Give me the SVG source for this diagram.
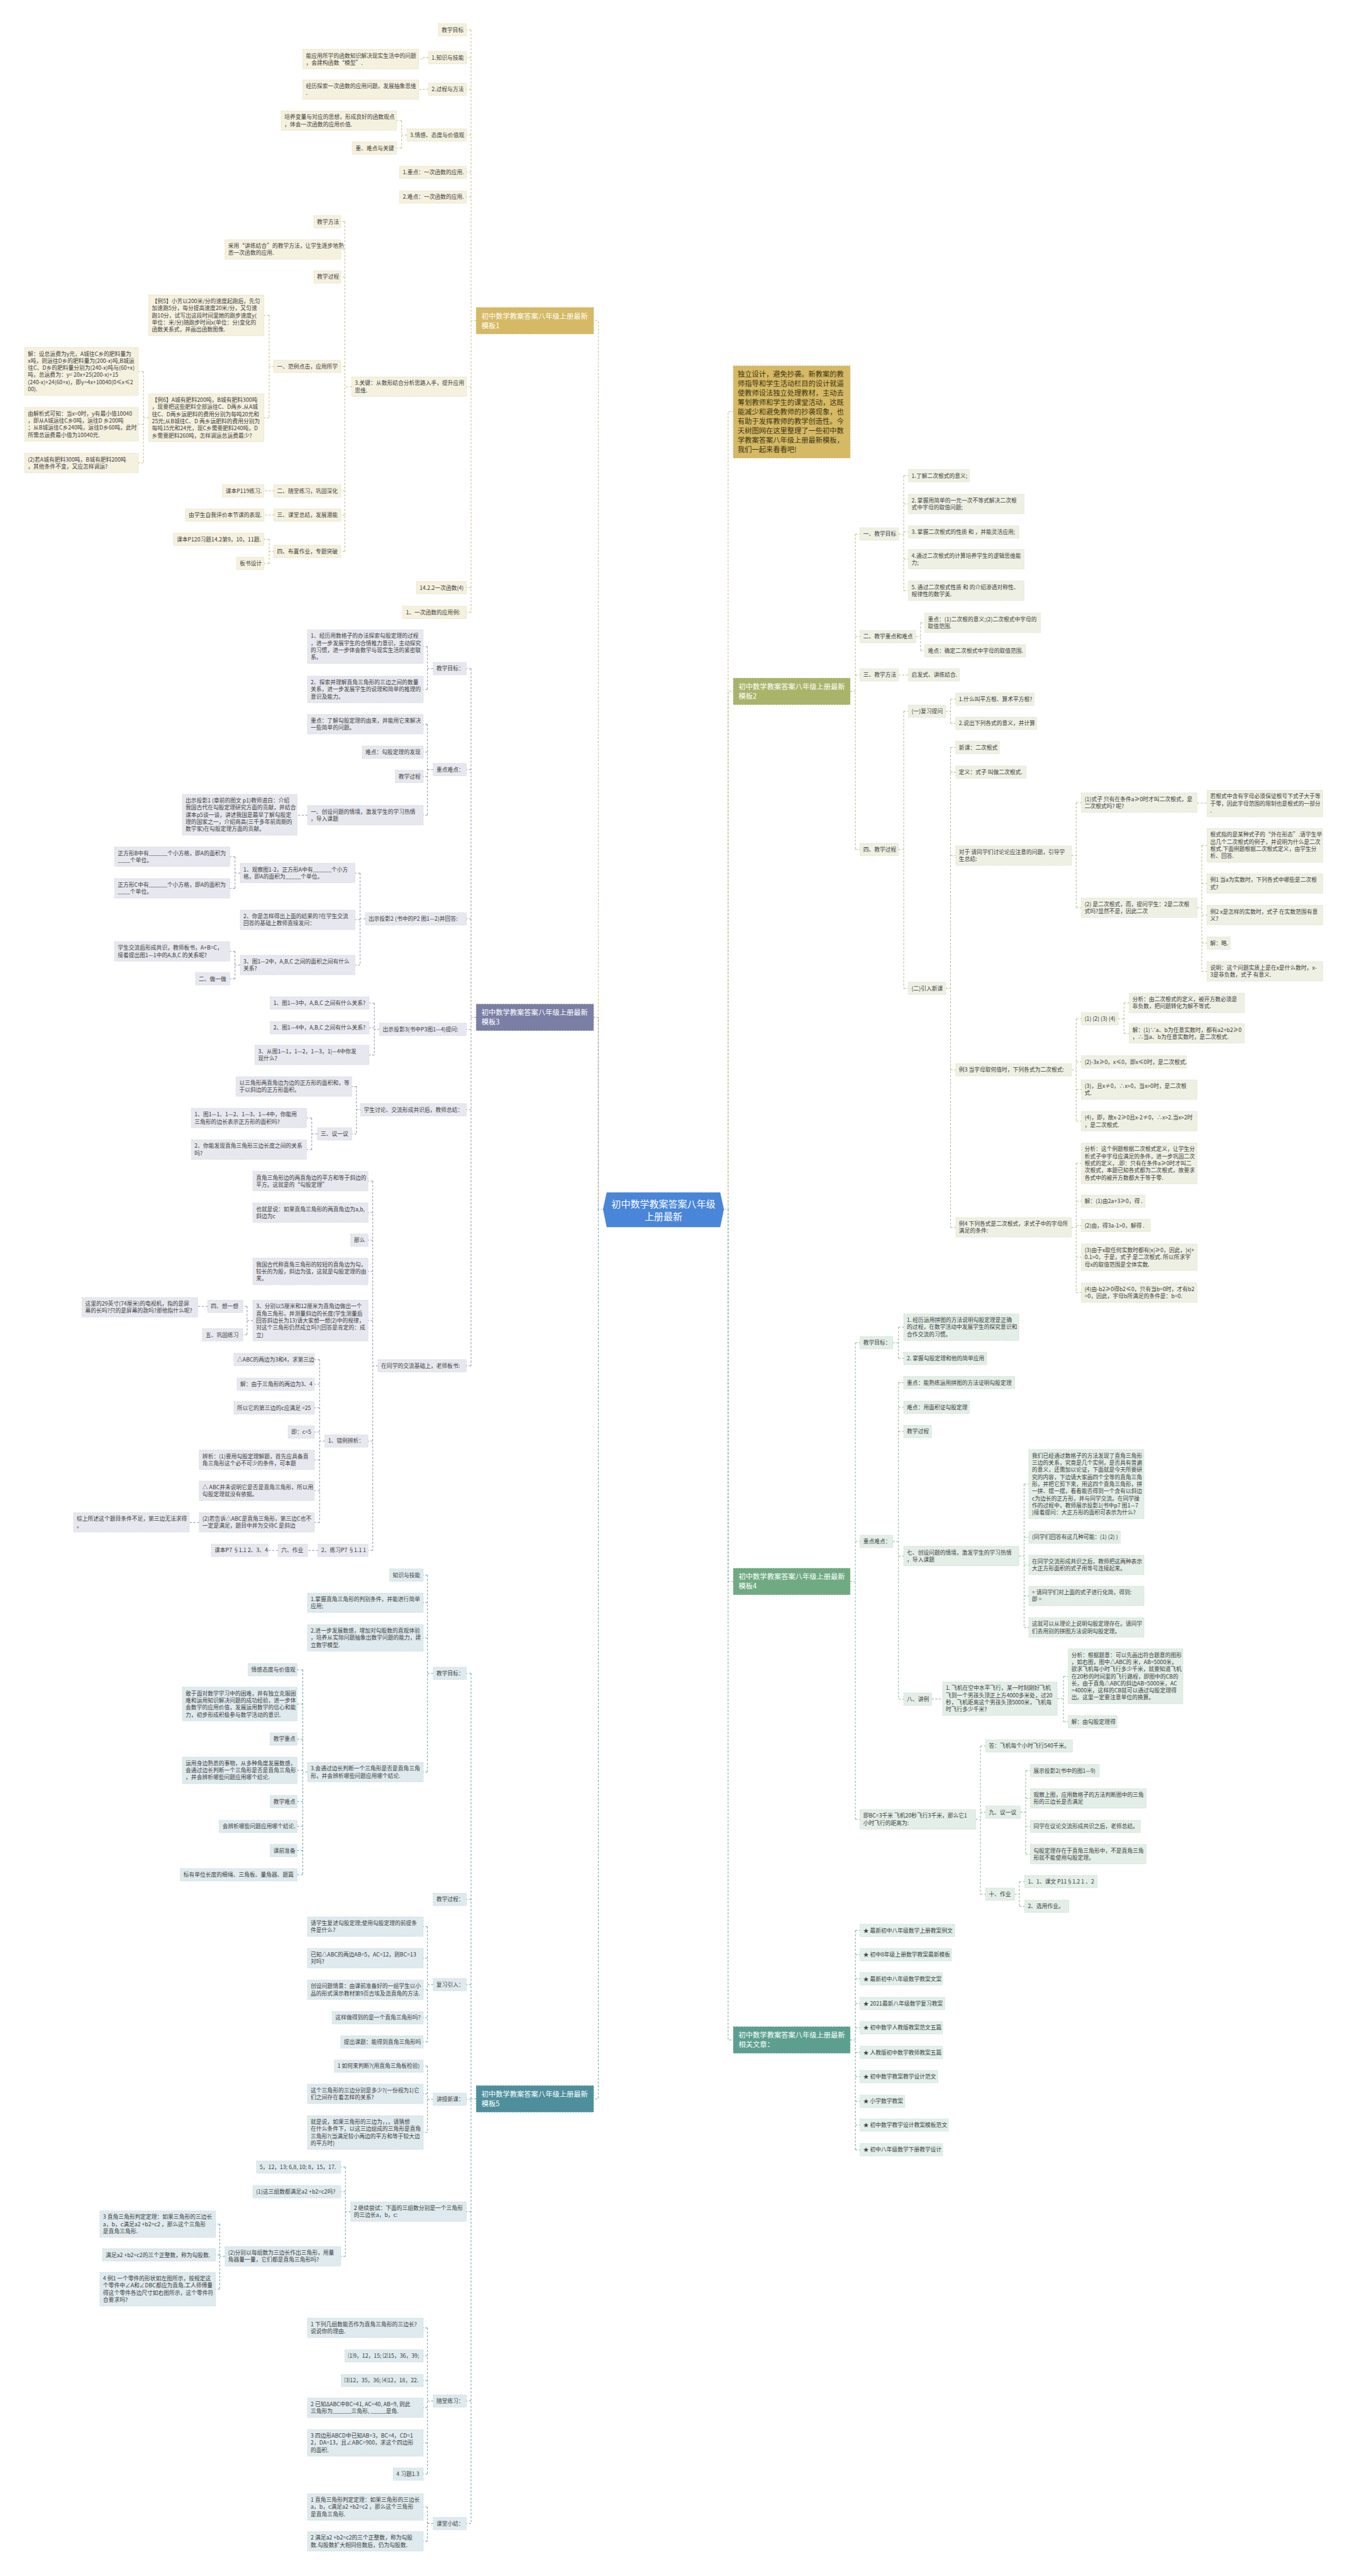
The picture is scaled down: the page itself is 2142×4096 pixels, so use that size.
<svg xmlns="http://www.w3.org/2000/svg" width="2142" height="4096" viewBox="0 0 2142 4096">
<style>
text{font-family:"Noto Sans CJK SC","Noto Sans",sans-serif}
.t{font-size:10.5px;fill:#404040}
.mt{font-size:13.5px;fill:#ffffff}
.it{font-size:13.5px;fill:#3d3414}
.ct{font-size:18px;fill:#ffffff;text-anchor:middle}
rect{stroke-width:1;stroke-dasharray:3 2}
.b1{fill:#f5f1df;stroke:#e3d9b2}
.b2{fill:#eff0e4;stroke:#d8ddc0}
.b3{fill:#e7e8ef;stroke:#cfd1de}
.b4{fill:#e3eee7;stroke:#c6dbcd}
.b5{fill:#dfeaee;stroke:#c3d6dc}
.b6{fill:#e2efea;stroke:#c4dcd3}
.m1{fill:#d5b964;stroke:#c2a44e}
.m2{fill:#a9b46a;stroke:#96a158}
.m3{fill:#7b7fa5;stroke:#686c92}
.m4{fill:#6faa83;stroke:#5c9770}
.m5{fill:#4f8f9d;stroke:#3f7d8b}
.m6{fill:#5c9f8f;stroke:#4b8c7d}
path{fill:none;stroke-width:1.2;stroke-dasharray:4 3}
.c1{stroke:#c9b97a}
.c2{stroke:#b3ba86}
.c3{stroke:#8d91ad}
.c4{stroke:#86b596}
.c5{stroke:#6c9ea9}
.c6{stroke:#6da797}
</style>
<rect x="0" y="0" width="2142" height="4096" fill="#ffffff" style="stroke:none"/>
<g transform="scale(0.836)">

<g id="connectors">
<!-- center -->
<path class="c1" d="M1147,2300 H1138 V610 H1129"/>
<path class="c3" d="M1138,2300 V1935 H1129"/>
<path class="c5" d="M1138,2300 V3992 H1129"/>
<path class="c1" d="M1377,2300 H1385 V783 H1395"/>
<path class="c2" d="M1385,2300 V1315 H1395"/>
<path class="c4" d="M1385,2300 V3008 H1395"/>
<path class="c6" d="M1385,2300 V3880 H1395"/>
<!-- B1 -->
<path class="c1" d="M906,610 H896 M896,56.75 V1164.75 M896,56.75 H887 M896,109.75 H887 M896,169.75 H887 M896,256.75 H887 M896,327.75 H887 M896,374.75 H887 M896,735.5 H887 M896,1117.75 H887 M896,1164.75 H887"/>
<path class="c1" d="M815,109.75 H805 V112.5 H796 M815,169.75 H805 V170.5 H796"/>
<path class="c1" d="M774,256.75 H764 M764,229.5 V281.75 M764,229.5 H754 M764,281.75 H754"/>
<path class="c1" d="M669,735.5 H656 M656,421.75 V1048.75 M656,421.75 H648 M656,474.5 H648 M656,526.75 H648 M656,696.75 H648 M656,933.75 H648 M656,979.75 H648 M656,1048.75 H648"/>
<path class="c1" d="M522,696.75 H512 M512,599.75 V794.5 M512,599.75 H502 M512,794.5 H502"/>
<path class="c1" d="M283,794.5 H273 M273,706.5 V880.5 M273,706.5 H263 M273,807 H263 M273,880.5 H263"/>
<path class="c1" d="M522,933.75 H502 M522,979.75 H502"/>
<path class="c1" d="M522,1048.75 H512 M512,1025.75 V1071.75 M512,1025.75 H502 M512,1071.75 H502"/>
<!-- B3 -->
<path class="c3" d="M906,1935 H896 M896,1271.75 V2597.75 M896,1271.75 H887 M896,1463.75 H887 M896,1747.75 H887 M896,1957.75 H887 M896,2110.75 H887 M896,2597.75 H887"/>
<path class="c3" d="M824,1271.75 H813 M813,1230 V1311.25 M813,1230 H805 M813,1311.25 H805"/>
<path class="c3" d="M824,1463.75 H813 M813,1377.5 V1550.5 M813,1377.5 H805 M813,1430.75 H805 M813,1476.75 H805 M813,1550.5 H805"/>
<path class="c3" d="M585,1550.5 H565"/>
<path class="c3" d="M695,1747.75 H685 M685,1660.5 V1835.5 M685,1660.5 H675 M685,1749.5 H675 M685,1835.5 H675"/>
<path class="c3" d="M457,1660.5 H447 M447,1629.5 V1689.5 M447,1629.5 H437 M447,1689.5 H437"/>
<path class="c3" d="M457,1835.5 H447 M447,1809.5 V1861.75 M447,1809.5 H437 M447,1861.75 H437"/>
<path class="c3" d="M722,1957.75 H712 M712,1907.75 V2006.5 M712,1907.75 H702 M712,1954.75 H702 M712,2006.5 H702"/>
<path class="c3" d="M688,2110.75 H678 M678,2066.5 V2156.75 M678,2066.5 H669 M678,2156.75 H669"/>
<path class="c3" d="M604,2156.75 H593 M593,2126.5 V2186.5 M593,2126.5 H583 M593,2186.5 H583"/>
<path class="c3" d="M719,2597.75 H709 M709,2246.5 V2948.75 M709,2246.5 H700 M709,2306.5 H700 M709,2358.75 H700 M709,2418.25 H700 M709,2511.75 H700 M709,2740.75 H700 M709,2948.75 H700"/>
<path class="c3" d="M481,2511.75 H470 M470,2484.75 V2538.75 M470,2484.75 H462 M470,2538.75 H462"/>
<path class="c3" d="M395,2484.75 H376"/>
<path class="c3" d="M618,2740.75 H608 M608,2585.75 V2895.5 M608,2585.75 H598 M608,2632.75 H598 M608,2677.75 H598 M608,2723.75 H598 M608,2776.5 H598 M608,2835.5 H598 M608,2895.5 H598"/>
<path class="c3" d="M379,2895.5 H360 M605,2948.75 H585 M529,2948.75 H510"/>
<!-- B5 -->
<path class="c5" d="M906,3992 H896 M896,3182.75 V4799.75 M896,3182.75 H887 M896,3612.75 H887 M896,3774.75 H887 M896,3992.75 H887 M896,4206.5 H887 M896,4566.75 H887 M896,4799.75 H887"/>
<path class="c5" d="M824,3182.75 H813 M813,2995.75 V3370.5 M813,2995.75 H805 M813,3048.5 H805 M813,3115.25 H805 M813,3370.5 H805"/>
<path class="c5" d="M585,3370.5 H576 M576,3175.75 V3565.75 M576,3175.75 H565 M576,3241 H565 M576,3307.75 H565 M576,3367.25 H565 M576,3426.75 H565 M576,3473.75 H565 M576,3519.75 H565 M576,3565.75 H565"/>
<path class="c5" d="M824,3774.75 H813 M813,3664.5 V3883.75 M813,3664.5 H805 M813,3724.5 H805 M813,3784.5 H805 M813,3837.75 H805 M813,3883.75 H805"/>
<path class="c5" d="M824,3992.75 H813 M813,3929.75 V4056 M813,3929.75 H805 M813,3982.5 H805 M813,4056 H805"/>
<path class="c5" d="M667,4206.5 H657 M657,4121.75 V4291.5 M657,4121.75 H648 M657,4168.75 H648 M657,4291.5 H648"/>
<path class="c5" d="M428,4291.5 H418 M418,4230.25 V4354 M418,4230.25 H410 M418,4288.75 H410 M418,4354 H410"/>
<path class="c5" d="M824,4566.75 H813 M813,4427.5 V4705.75 M813,4427.5 H805 M813,4480.75 H805 M813,4527.75 H805 M813,4579.5 H805 M813,4646.25 H805 M813,4705.75 H805"/>
<path class="c5" d="M824,4799.75 H813 M813,4768.25 V4833.5 M813,4768.25 H805 M813,4833.5 H805"/>
<!-- B2 -->
<path class="c2" d="M1617,1315 H1627 M1627,1015.75 V1615.75 M1627,1015.75 H1636 M1627,1210.75 H1636 M1627,1283.75 H1636 M1627,1615.75 H1636"/>
<path class="c2" d="M1709,1015.75 H1719 M1719,904.75 V1123.5 M1719,904.75 H1728 M1719,958.5 H1728 M1719,1011.75 H1728 M1719,1063.5 H1728 M1719,1123.5 H1728"/>
<path class="c2" d="M1742,1210.75 H1751 M1751,1184.5 V1237.75 M1751,1184.5 H1759 M1751,1237.75 H1759"/>
<path class="c2" d="M1709,1283.75 H1728"/>
<path class="c2" d="M1709,1615.75 H1719 M1719,1352.75 V1879.75 M1719,1352.75 H1728 M1719,1879.75 H1728"/>
<path class="c2" d="M1799,1352.75 H1808 M1808,1329.75 V1375.75 M1808,1329.75 H1818 M1808,1375.75 H1818"/>
<path class="c2" d="M1799,1879.75 H1808 M1808,1421.75 V2334.5 M1808,1421.75 H1818 M1808,1468.75 H1818 M1808,1627.5 H1818 M1808,2034.75 H1818 M1808,2334.5 H1818"/>
<path class="c2" d="M2038,1627.5 H2047 M2047,1526.5 V1726.5 M2047,1526.5 H2057 M2047,1726.5 H2057"/>
<path class="c2" d="M2277,1527.5 H2296"/>
<path class="c2" d="M2277,1726.5 H2286 M2286,1608 V1847.5 M2286,1608 H2296 M2286,1680.5 H2296 M2286,1740.5 H2296 M2286,1793.75 H2296 M2286,1847.5 H2296"/>
<path class="c2" d="M2038,2034.75 H2047 M2047,1937.75 V2132.5 M2047,1937.75 H2057 M2047,2019.75 H2057 M2047,2072.5 H2057 M2047,2132.5 H2057"/>
<path class="c2" d="M2127,1937.75 H2138 M2138,1907.5 V1965.5 M2138,1907.5 H2148 M2138,1965.5 H2148"/>
<path class="c2" d="M2038,2334.5 H2047 M2047,2212.75 V2458.5 M2047,2212.75 H2057 M2047,2284.75 H2057 M2047,2330.75 H2057 M2047,2391.25 H2057 M2047,2458.5 H2057"/>
<!-- B4 -->
<path class="c4" d="M1617,3008 H1627 M1627,2553.75 V3460.5 M1627,2553.75 H1636 M1627,2931.75 H1636 M1627,3460.5 H1636"/>
<path class="c4" d="M1698,2553.75 H1709 M1709,2524.25 V2583.75 M1709,2524.25 H1719 M1709,2583.75 H1719"/>
<path class="c4" d="M1698,2931.75 H1709 M1709,2629.75 V3231.75 M1709,2629.75 H1719 M1709,2676.75 H1719 M1709,2722.75 H1719 M1709,2959.5 H1719 M1709,3231.75 H1719"/>
<path class="c4" d="M1938,2959.5 H1948 M1948,2822.75 V3095.5 M1948,2822.75 H1957 M1948,2923.75 H1957 M1948,2976.5 H1957 M1948,3035.5 H1957 M1948,3095.5 H1957"/>
<path class="c4" d="M1772,3231.5 H1793"/>
<path class="c4" d="M2011,3231 H2023 M2023,3188.25 V3274.75 M2023,3188.25 H2032 M2023,3274.75 H2032"/>
<path class="c4" d="M1856,3460.5 H1865 M1865,3320.75 V3602.75 M1865,3320.75 H1875 M1865,3446.75 H1875 M1865,3602.75 H1875"/>
<path class="c4" d="M1941,3446.75 H1951 M1951,3367.75 V3526.5 M1951,3367.75 H1960 M1951,3420.5 H1960 M1951,3473.75 H1960 M1951,3526.5 H1960"/>
<path class="c4" d="M1930,3602.75 H1939 M1939,3578.75 V3625.75 M1939,3578.75 H1949 M1939,3625.75 H1949"/>
<!-- B6 -->
<path class="c6" d="M1617,3880 H1627 M1627,3671.75 V4088.75 M1627,3671.75 H1636 M1627,3717.75 H1636 M1627,3763.75 H1636 M1627,3810.75 H1636 M1627,3856.75 H1636 M1627,3903.75 H1636 M1627,3949.75 H1636 M1627,3996.75 H1636 M1627,4041.75 H1636 M1627,4088.75 H1636"/>
</g>

<!-- center -->
<g id="center">
<polygon points="1154,2268 1370,2268 1377,2300 1370,2334 1154,2334 1147,2300" fill="#4a86d8"/>
<text class="ct" x="1262" y="2297">初中数学教案答案八年级</text>
<text class="ct" x="1262" y="2321">上册最新</text>
</g>

<!-- ===== B1 ===== -->
<g id="m1"><rect class="m1" x="906" y="585" width="223" height="50"/><text class="mt" x="916" y="606">初中数学教案答案八年级上册最新<tspan x="916" dy="18">模板1</tspan></text></g>
<g id="n1a"><rect class="b1" x="834" y="45" width="53" height="23.5"/><text class="t" x="840" y="60.5">教学目标</text></g>
<g id="n1b"><rect class="b1" x="815" y="98" width="72" height="23.5"/><text class="t" x="821" y="113.5">1.知识与技能</text></g>
<g id="n1b1"><rect class="b1" x="576" y="94" width="220" height="37"/><text class="t" x="582" y="109.5">能应用所学的函数知识解决现实生活中的问题<tspan x="582" dy="13.5">，会建构函数“模型”.</tspan></text></g>
<g id="n1c"><rect class="b1" x="815" y="158" width="72" height="23.5"/><text class="t" x="821" y="173.5">2.过程与方法</text></g>
<g id="n1c1"><rect class="b1" x="576" y="152" width="220" height="37"/><text class="t" x="582" y="167.5">经历探索一次函数的应用问题，发展抽象思维<tspan x="582" dy="13.5">.</tspan></text></g>
<g id="n1d"><rect class="b1" x="774" y="245" width="113" height="23.5"/><text class="t" x="780" y="260.5">3.情感、态度与价值观</text></g>
<g id="n1d1"><rect class="b1" x="535" y="211" width="219" height="37"/><text class="t" x="541" y="226.5">培养变量与对应的思想，形成良好的函数观点<tspan x="541" dy="13.5">，体会一次函数的应用价值.</tspan></text></g>
<g id="n1d2"><rect class="b1" x="670" y="270" width="84" height="23.5"/><text class="t" x="676" y="285.5">重、难点与关键</text></g>
<g id="n1e"><rect class="b1" x="760" y="316" width="127" height="23.5"/><text class="t" x="766" y="331.5">1.重点：一次函数的应用.</text></g>
<g id="n1f"><rect class="b1" x="760" y="363" width="127" height="23.5"/><text class="t" x="766" y="378.5">2.难点：一次函数的应用.</text></g>
<g id="n1g"><rect class="b1" x="669" y="717" width="218" height="37"/><text class="t" x="675" y="732.5">3.关键：从数形结合分析思路入手，提升应用<tspan x="675" dy="13.5">思维.</tspan></text></g>
<g id="n1g1"><rect class="b1" x="597" y="410" width="51" height="23.5"/><text class="t" x="603" y="425.5">教学方法</text></g>
<g id="n1g2"><rect class="b1" x="428" y="456" width="220" height="37"/><text class="t" x="434" y="471.5">采用“讲练结合”的教学方法，让学生逐步地熟<tspan x="434" dy="13.5">悉一次函数的应用.</tspan></text></g>
<g id="n1g3"><rect class="b1" x="597" y="515" width="51" height="23.5"/><text class="t" x="603" y="530.5">教学过程</text></g>
<g id="n1g4"><rect class="b1" x="521" y="685" width="127" height="23.5"/><text class="t" x="527" y="700.5">一、范例点击，应用所学</text></g>
<g id="n1g4a"><rect class="b1" x="283" y="561" width="219" height="77.5"/><text class="t" x="289" y="576.5">【例5】小芳以200米/分的速度起跑后，先匀<tspan x="289" dy="13.5">加速跑5分，每分提高速度20米/分，又匀速</tspan><tspan x="289" dy="13.5">跑10分，试写出这段时间里她的跑步速度y(</tspan><tspan x="289" dy="13.5">单位：米/分)随跑步时间x(单位：分)变化的</tspan><tspan x="289" dy="13.5">函数关系式，并画出函数图像.</tspan></text></g>
<g id="n1g4b"><rect class="b1" x="283" y="749" width="219" height="91"/><text class="t" x="289" y="764.5">【例6】A城有肥料200吨，B城有肥料300吨<tspan x="289" dy="13.5">，现要把这些肥料全部运往C、D两乡.从A城</tspan><tspan x="289" dy="13.5">往C、D两乡运肥料的费用分别为每吨20元和</tspan><tspan x="289" dy="13.5">25元;从B城往C、D 两乡运肥料的费用分别为</tspan><tspan x="289" dy="13.5">每吨15元和24元，现C乡需要肥料240吨，D</tspan><tspan x="289" dy="13.5">乡需要肥料260吨，怎样调运总运费最少?</tspan></text></g>
<g id="n1g4b1"><rect class="b1" x="47" y="661" width="216" height="91"/><text class="t" x="53" y="676.5">解：设总运费为y元，A城往C乡的肥料量为<tspan x="53" dy="13.5">x吨，则运往D乡的肥料量为(200-x)吨,B城运</tspan><tspan x="53" dy="13.5">往C、D乡的肥料量分别为(240-x)吨与(60+x)</tspan><tspan x="53" dy="13.5">吨，总运费为：y= 20x+25(200-x)+15</tspan><tspan x="53" dy="13.5">(240-x)+24(60+x)，即y=4x+10040(0≤x≤2</tspan><tspan x="53" dy="13.5">00).</tspan></text></g>
<g id="n1g4b2"><rect class="b1" x="47" y="775" width="216" height="64"/><text class="t" x="53" y="790.5">由解析式可知：当x=0时，y有最小值10040<tspan x="53" dy="13.5">，即从A城运往C乡0吨，运往D 乡200吨</tspan><tspan x="53" dy="13.5">；从B城运往C乡240吨，运往D乡60吨，此时</tspan><tspan x="53" dy="13.5">所需总运费最小值为10040元.</tspan></text></g>
<g id="n1g4b3"><rect class="b1" x="47" y="862" width="216" height="37"/><text class="t" x="53" y="877.5">(2)若A城有肥料300吨，B城有肥料200吨<tspan x="53" dy="13.5">，其他条件不变，又应怎样调运?</tspan></text></g>
<g id="n1g5"><rect class="b1" x="521" y="922" width="127" height="23.5"/><text class="t" x="527" y="937.5">二、随堂练习，巩固深化</text></g>
<g id="n1g5a"><rect class="b1" x="423" y="922" width="79" height="23.5"/><text class="t" x="429" y="937.5">课本P119练习.</text></g>
<g id="n1g6"><rect class="b1" x="521" y="968" width="127" height="23.5"/><text class="t" x="527" y="983.5">三、课堂总结，发展潜能</text></g>
<g id="n1g6a"><rect class="b1" x="353" y="968" width="149" height="23.5"/><text class="t" x="359" y="983.5">由学生自我评价本节课的表现.</text></g>
<g id="n1g7"><rect class="b1" x="521" y="1037" width="127" height="23.5"/><text class="t" x="527" y="1052.5">四、布置作业，专题突破</text></g>
<g id="n1g7a"><rect class="b1" x="330" y="1014" width="172" height="23.5"/><text class="t" x="336" y="1029.5">课本P120习题14.2第9，10，11题.</text></g>
<g id="n1g7b"><rect class="b1" x="450" y="1060" width="52" height="23.5"/><text class="t" x="456" y="1075.5">板书设计</text></g>
<g id="n1h"><rect class="b1" x="792" y="1106" width="95" height="23.5"/><text class="t" x="798" y="1121.5">14.2.2一次函数(4)</text></g>
<g id="n1i"><rect class="b1" x="766" y="1153" width="121" height="23.5"/><text class="t" x="772" y="1168.5">1、一次函数的应用例:</text></g>

<!-- ===== B3 ===== -->
<g id="m3"><rect class="m3" x="906" y="1910" width="223" height="50"/><text class="mt" x="916" y="1931">初中数学教案答案八年级上册最新<tspan x="916" dy="18">模板3</tspan></text></g>
<g id="n3a"><rect class="b3" x="824" y="1260" width="63" height="23.5"/><text class="t" x="830" y="1275.5">教学目标：</text></g>
<g id="n3a1"><rect class="b3" x="585" y="1198" width="220" height="64"/><text class="t" x="591" y="1213.5">1、经历用数格子的办法探索勾股定理的过程<tspan x="591" dy="13.5">，进一步发展学生的合情推力意识，主动探究</tspan><tspan x="591" dy="13.5">的习惯，进一步体会数学与现实生活的紧密联</tspan><tspan x="591" dy="13.5">系。</tspan></text></g>
<g id="n3a2"><rect class="b3" x="585" y="1286" width="220" height="50.5"/><text class="t" x="591" y="1301.5">2、探索并理解直角三角形的三边之间的数量<tspan x="591" dy="13.5">关系，进一步发展学生的说理和简单的推理的</tspan><tspan x="591" dy="13.5">意识及能力。</tspan></text></g>
<g id="n3b"><rect class="b3" x="824" y="1452" width="63" height="23.5"/><text class="t" x="830" y="1467.5">重点难点：</text></g>
<g id="n3b1"><rect class="b3" x="585" y="1359" width="220" height="37"/><text class="t" x="591" y="1374.5">重点：了解勾股定理的由来，并能用它来解决<tspan x="591" dy="13.5">一些简单的问题。</tspan></text></g>
<g id="n3b2"><rect class="b3" x="689" y="1419" width="116" height="23.5"/><text class="t" x="695" y="1434.5">难点：勾股定理的发现</text></g>
<g id="n3b3"><rect class="b3" x="752" y="1465" width="53" height="23.5"/><text class="t" x="758" y="1480.5">教学过程</text></g>
<g id="n3b4"><rect class="b3" x="585" y="1532" width="220" height="37"/><text class="t" x="591" y="1547.5">一、创设问题的情境，激发学生的学习热情<tspan x="591" dy="13.5">，导入课题</tspan></text></g>
<g id="n3b4a"><rect class="b3" x="347" y="1511" width="218" height="77.5"/><text class="t" x="353" y="1526.5">出示投影1 (章前的图文 p1)教师道白：介绍<tspan x="353" dy="13.5">我国古代在勾股定理研究方面的贡献，并结合</tspan><tspan x="353" dy="13.5">课本p5谈一谈，讲述我国是最早了解勾股定</tspan><tspan x="353" dy="13.5">理的国家之一，介绍商高(三千多年前周期的</tspan><tspan x="353" dy="13.5">数学家)在勾股定理方面的贡献。</tspan></text></g>
<g id="n3c"><rect class="b3" x="695" y="1736" width="192" height="23.5"/><text class="t" x="701" y="1751.5">出示投影2 (书中的P2 图1—2)并回答:</text></g>
<g id="n3c1"><rect class="b3" x="457" y="1642" width="218" height="37"/><text class="t" x="463" y="1657.5">1、观察图1-2，正方形A中有______个小方<tspan x="463" dy="13.5">格，即A的面积为_____个单位。</tspan></text></g>
<g id="n3c1a"><rect class="b3" x="218" y="1611" width="219" height="37"/><text class="t" x="224" y="1626.5">正方形B中有______个小方格，即A的面积为<tspan x="224" dy="13.5">____个单位。</tspan></text></g>
<g id="n3c1b"><rect class="b3" x="218" y="1671" width="219" height="37"/><text class="t" x="224" y="1686.5">正方形C中有______个小方格，即A的面积为<tspan x="224" dy="13.5">____个单位。</tspan></text></g>
<g id="n3c2"><rect class="b3" x="457" y="1731" width="218" height="37"/><text class="t" x="463" y="1746.5">2、你是怎样得出上面的结果的?在学生交流<tspan x="463" dy="13.5">回答的基础上教师直接发问：</tspan></text></g>
<g id="n3c3"><rect class="b3" x="457" y="1817" width="218" height="37"/><text class="t" x="463" y="1832.5">3、图1—2中，A,B,C 之间的面积之间有什么<tspan x="463" dy="13.5">关系?</tspan></text></g>
<g id="n3c3a"><rect class="b3" x="218" y="1791" width="219" height="37"/><text class="t" x="224" y="1806.5">学生交流后形成共识，教师板书，A+B=C，<tspan x="224" dy="13.5">接着提出图1—1中的A,B,C 的关系呢?</tspan></text></g>
<g id="n3c3b"><rect class="b3" x="372" y="1850" width="65" height="23.5"/><text class="t" x="378" y="1865.5">二、做一做</text></g>
<g id="n3d"><rect class="b3" x="722" y="1946" width="165" height="23.5"/><text class="t" x="728" y="1961.5">出示投影3(书中P3图1—4)提问:</text></g>
<g id="n3d1"><rect class="b3" x="514" y="1896" width="188" height="23.5"/><text class="t" x="520" y="1911.5">1、图1—3中，A,B,C 之间有什么关系?</text></g>
<g id="n3d2"><rect class="b3" x="514" y="1943" width="188" height="23.5"/><text class="t" x="520" y="1958.5">2、图1—4中，A,B,C 之间有什么关系?</text></g>
<g id="n3d3"><rect class="b3" x="485" y="1988" width="217" height="37"/><text class="t" x="491" y="2003.5">3、从图1—1，1—2，1—3，1|—4中你发<tspan x="491" dy="13.5">现什么?</tspan></text></g>
<g id="n3e"><rect class="b3" x="686" y="2099" width="201" height="23.5"/><text class="t" x="692" y="2114.5">学生讨论、交流形成共识后，教师总结：</text></g>
<g id="n3e1"><rect class="b3" x="449" y="2048" width="220" height="37"/><text class="t" x="455" y="2063.5">以三角形两直角边为边的正方形的面积和，等<tspan x="455" dy="13.5">于以斜边的正方形面积。</tspan></text></g>
<g id="n3e2"><rect class="b3" x="604" y="2145" width="65" height="23.5"/><text class="t" x="610" y="2160.5">三、议一议</text></g>
<g id="n3e2a"><rect class="b3" x="364" y="2108" width="219" height="37"/><text class="t" x="370" y="2123.5">1、图1—1、1—2、1—3、1—4中，你能用<tspan x="370" dy="13.5">三角形的边长表示正方形的面积吗?</tspan></text></g>
<g id="n3e2b"><rect class="b3" x="364" y="2168" width="219" height="37"/><text class="t" x="370" y="2183.5">2、你能发现直角三角形三边长度之间的关系<tspan x="370" dy="13.5">吗?</tspan></text></g>
<g id="n3f"><rect class="b3" x="719" y="2586" width="168" height="23.5"/><text class="t" x="725" y="2601.5">在同学的交流基础上，老师板书:</text></g>
<g id="n3f1"><rect class="b3" x="481" y="2228" width="219" height="37"/><text class="t" x="487" y="2243.5">直角三角形边的两直角边的平方和等于斜边的<tspan x="487" dy="13.5">平方。这就是的“勾股定理”</tspan></text></g>
<g id="n3f2"><rect class="b3" x="481" y="2288" width="219" height="37"/><text class="t" x="487" y="2303.5">也就是说：如果直角三角形的两直角边为a,b,<tspan x="487" dy="13.5">斜边为c</tspan></text></g>
<g id="n3f3"><rect class="b3" x="667" y="2347" width="33" height="23.5"/><text class="t" x="673" y="2362.5">那么</text></g>
<g id="n3f4"><rect class="b3" x="481" y="2393" width="219" height="50.5"/><text class="t" x="487" y="2408.5">我国古代称直角三角形的较短的直角边为勾，<tspan x="487" dy="13.5">较长的为股，斜边为弦，这就是勾股定理的由</tspan><tspan x="487" dy="13.5">来。</tspan></text></g>
<g id="n3f5"><rect class="b3" x="481" y="2473" width="219" height="77.5"/><text class="t" x="487" y="2488.5">3、分别以5厘米和12厘米为直角边做出一个<tspan x="487" dy="13.5">直角三角形，并测量斜边的长度(学生测量后</tspan><tspan x="487" dy="13.5">回答斜边长为13)请大家想一想(2)中的规律，</tspan><tspan x="487" dy="13.5">对这个三角形仍然成立吗?(回答是肯定的：成</tspan><tspan x="487" dy="13.5">立)</tspan></text></g>
<g id="n3f5a"><rect class="b3" x="395" y="2473" width="67" height="23.5"/><text class="t" x="401" y="2488.5">四、想一想</text></g>
<g id="n3f5a1"><rect class="b3" x="156" y="2468" width="220" height="37"/><text class="t" x="162" y="2483.5">这里的29英寸(74厘米)的电视机，指的是屏<tspan x="162" dy="13.5">幕的长吗?只的是屏幕的款吗?那他指什么呢?</tspan></text></g>
<g id="n3f5b"><rect class="b3" x="385" y="2527" width="77" height="23.5"/><text class="t" x="391" y="2542.5">五、巩固练习</text></g>
<g id="n3f6"><rect class="b3" x="618" y="2729" width="82" height="23.5"/><text class="t" x="624" y="2744.5">1、错例辨析：</text></g>
<g id="n3f6a"><rect class="b3" x="445" y="2574" width="153" height="23.5"/><text class="t" x="451" y="2589.5">△ABC的两边为3和4，求第三边</text></g>
<g id="n3f6b"><rect class="b3" x="451" y="2621" width="147" height="23.5"/><text class="t" x="457" y="2636.5">解：由于三角形的两边为3、4</text></g>
<g id="n3f6c"><rect class="b3" x="445" y="2666" width="153" height="23.5"/><text class="t" x="451" y="2681.5">所以它的第三边的c应满足 =25</text></g>
<g id="n3f6d"><rect class="b3" x="548" y="2712" width="50" height="23.5"/><text class="t" x="554" y="2727.5">即：c=5</text></g>
<g id="n3f6e"><rect class="b3" x="379" y="2758" width="219" height="37"/><text class="t" x="385" y="2773.5">辨析：(1)要用勾股定理解题，首先应具备直<tspan x="385" dy="13.5">角三角形这个必不可少的条件，可本题</tspan></text></g>
<g id="n3f6f"><rect class="b3" x="379" y="2817" width="219" height="37"/><text class="t" x="385" y="2832.5">△ ABC并未说明它是否是直角三角形，所以用<tspan x="385" dy="13.5">勾股定理就没有依据。</tspan></text></g>
<g id="n3f6g"><rect class="b3" x="379" y="2877" width="219" height="37"/><text class="t" x="385" y="2892.5">(2)若告诉△ABC是直角三角形，第三边C也不<tspan x="385" dy="13.5">一定是满足，题目中并为交待C 是斜边</tspan></text></g>
<g id="n3f6g1"><rect class="b3" x="140" y="2877" width="220" height="37"/><text class="t" x="146" y="2892.5">综上所述这个题目条件不足，第三边无法求得<tspan x="146" dy="13.5">。</tspan></text></g>
<g id="n3f7"><rect class="b3" x="605" y="2937" width="95" height="23.5"/><text class="t" x="611" y="2952.5">2、练习P7 §1.1 1</text></g>
<g id="n3f7a"><rect class="b3" x="529" y="2937" width="56" height="23.5"/><text class="t" x="535" y="2952.5">六、作业</text></g>
<g id="n3f7a1"><rect class="b3" x="402" y="2937" width="108" height="23.5"/><text class="t" x="408" y="2952.5">课本P7 §1.1 2、3、4</text></g>

<!-- ===== B5 ===== -->
<g id="m5"><rect class="m5" x="906" y="3967" width="223" height="50"/><text class="mt" x="916" y="3988">初中数学教案答案八年级上册最新<tspan x="916" dy="18">模板5</tspan></text></g>
<g id="n5a"><rect class="b5" x="824" y="3171" width="63" height="23.5"/><text class="t" x="830" y="3186.5">教学目标：</text></g>
<g id="n5a1"><rect class="b5" x="741" y="2984" width="64" height="23.5"/><text class="t" x="747" y="2999.5">知识与技能</text></g>
<g id="n5a2"><rect class="b5" x="585" y="3030" width="220" height="37"/><text class="t" x="591" y="3045.5">1.掌握直角三角形的判别条件，并能进行简单<tspan x="591" dy="13.5">应用;</tspan></text></g>
<g id="n5a3"><rect class="b5" x="585" y="3090" width="220" height="50.5"/><text class="t" x="591" y="3105.5">2.进一步发展数感，增加对勾股数的直观体验<tspan x="591" dy="13.5">，培养从实际问题抽象出数学问题的能力，建</tspan><tspan x="591" dy="13.5">立数学模型.</tspan></text></g>
<g id="n5a4"><rect class="b5" x="585" y="3352" width="220" height="37"/><text class="t" x="591" y="3367.5">3.会通过边长判断一个三角形是否是直角三角<tspan x="591" dy="13.5">形，并会辨析哪些问题应用哪个结论.</tspan></text></g>
<g id="n5a4a"><rect class="b5" x="472" y="3164" width="93" height="23.5"/><text class="t" x="478" y="3179.5">情感态度与价值观</text></g>
<g id="n5a4b"><rect class="b5" x="347" y="3209" width="218" height="64"/><text class="t" x="353" y="3224.5">敢于面对数学学习中的困难，并有独立克服困<tspan x="353" dy="13.5">难和运用知识解决问题的成功经验，进一步体</tspan><tspan x="353" dy="13.5">会数学的应用价值，发展运用数学的信心和能</tspan><tspan x="353" dy="13.5">力，初步形成积极参与数学活动的意识.</tspan></text></g>
<g id="n5a4c"><rect class="b5" x="514" y="3296" width="51" height="23.5"/><text class="t" x="520" y="3311.5">教学重点</text></g>
<g id="n5a4d"><rect class="b5" x="347" y="3342" width="218" height="50.5"/><text class="t" x="353" y="3357.5">运用身边熟悉的事物，从多种角度发展数感，<tspan x="353" dy="13.5">会通过边长判断一个三角形是否是直角三角形</tspan><tspan x="353" dy="13.5">，并会辨析哪些问题应用哪个结论.</tspan></text></g>
<g id="n5a4e"><rect class="b5" x="514" y="3415" width="51" height="23.5"/><text class="t" x="520" y="3430.5">教学难点</text></g>
<g id="n5a4f"><rect class="b5" x="417" y="3462" width="148" height="23.5"/><text class="t" x="423" y="3477.5">会辨析哪些问题应用哪个结论.</text></g>
<g id="n5a4g"><rect class="b5" x="514" y="3508" width="51" height="23.5"/><text class="t" x="520" y="3523.5">课前准备</text></g>
<g id="n5a4h"><rect class="b5" x="343" y="3554" width="222" height="23.5"/><text class="t" x="349" y="3569.5">标有单位长度的细绳、三角板、量角器、题篇</text></g>
<g id="n5b"><rect class="b5" x="824" y="3601" width="63" height="23.5"/><text class="t" x="830" y="3616.5">教学过程：</text></g>
<g id="n5c"><rect class="b5" x="824" y="3763" width="63" height="23.5"/><text class="t" x="830" y="3778.5">复习引入：</text></g>
<g id="n5c1"><rect class="b5" x="585" y="3646" width="220" height="37"/><text class="t" x="591" y="3661.5">请学生复述勾股定理;使用勾股定理的前提条<tspan x="591" dy="13.5">件是什么?</tspan></text></g>
<g id="n5c2"><rect class="b5" x="585" y="3706" width="220" height="37"/><text class="t" x="591" y="3721.5">已知△ABC的两边AB=5，AC=12，则BC=13<tspan x="591" dy="13.5">对吗?</tspan></text></g>
<g id="n5c3"><rect class="b5" x="585" y="3766" width="220" height="37"/><text class="t" x="591" y="3781.5">创设问题情景：由课前准备好的一组学生以小<tspan x="591" dy="13.5">品的形式演示教材第9页古埃及造直角的方法.</tspan></text></g>
<g id="n5c4"><rect class="b5" x="632" y="3826" width="173" height="23.5"/><text class="t" x="638" y="3841.5">这样做得到的是一个直角三角形吗?</text></g>
<g id="n5c5"><rect class="b5" x="648" y="3872" width="157" height="23.5"/><text class="t" x="654" y="3887.5">提出课题：能得到直角三角形吗</text></g>
<g id="n5d"><rect class="b5" x="824" y="3981" width="63" height="23.5"/><text class="t" x="830" y="3996.5">讲授新课：</text></g>
<g id="n5d1"><rect class="b5" x="636" y="3918" width="169" height="23.5"/><text class="t" x="642" y="3933.5">1 如何来判断?(用直角三角板检验)</text></g>
<g id="n5d2"><rect class="b5" x="585" y="3964" width="220" height="37"/><text class="t" x="591" y="3979.5">这个三角形的三边分别是多少?(一份视为1)它<tspan x="591" dy="13.5">们之间存在着怎样的关系?</tspan></text></g>
<g id="n5d3"><rect class="b5" x="585" y="4024" width="220" height="64"/><text class="t" x="591" y="4039.5">就是说，如果三角形的三边为，，，请猜想<tspan x="591" dy="13.5">在什么条件下，以这三边组成的三角形是直角</tspan><tspan x="591" dy="13.5">三角形?(当满足较小两边的平方和等于较大边</tspan><tspan x="591" dy="13.5">的平方时)</tspan></text></g>
<g id="n5e"><rect class="b5" x="667" y="4188" width="220" height="37"/><text class="t" x="673" y="4203.5">2 继续尝试：下面的三组数分别是一个三角形<tspan x="673" dy="13.5">的三边长a，b，c:</tspan></text></g>
<g id="n5e1"><rect class="b5" x="488" y="4110" width="160" height="23.5"/><text class="t" x="494" y="4125.5">5，12，13; 6,8, 10; 8，15，17.</text></g>
<g id="n5e2"><rect class="b5" x="481" y="4157" width="167" height="23.5"/><text class="t" x="487" y="4172.5">(1)这三组数都满足a2 +b2=c2吗?</text></g>
<g id="n5e3"><rect class="b5" x="428" y="4273" width="220" height="37"/><text class="t" x="434" y="4288.5">(2)分别以每组数为三边长作出三角形，用量<tspan x="434" dy="13.5">角器量一量，它们都是直角三角形吗?</tspan></text></g>
<g id="n5e3a"><rect class="b5" x="190" y="4205" width="220" height="50.5"/><text class="t" x="196" y="4220.5">3 直角三角形判定定理：如果三角形的三边长<tspan x="196" dy="13.5">a，b，c满足a2 +b2=c2 ，那么这个三角形</tspan><tspan x="196" dy="13.5">是直角三角形.</tspan></text></g>
<g id="n5e3b"><rect class="b5" x="195" y="4277" width="215" height="23.5"/><text class="t" x="201" y="4292.5">满足a2 +b2=c2的三个正整数，称为勾股数.</text></g>
<g id="n5e3c"><rect class="b5" x="190" y="4322" width="220" height="64"/><text class="t" x="196" y="4337.5">4 例1 一个零件的形状如左图所示，按规定这<tspan x="196" dy="13.5">个零件中∠A和∠DBC都应为直角.工人师傅量</tspan><tspan x="196" dy="13.5">得这个零件各边尺寸如右图所示，这个零件符</tspan><tspan x="196" dy="13.5">合要求吗?</tspan></text></g>
<g id="n5f"><rect class="b5" x="824" y="4555" width="63" height="23.5"/><text class="t" x="830" y="4570.5">随堂练习：</text></g>
<g id="n5f1"><rect class="b5" x="585" y="4409" width="220" height="37"/><text class="t" x="591" y="4424.5">1 下列几组数能否作为直角三角形的三边长?<tspan x="591" dy="13.5">说说你的理由.</tspan></text></g>
<g id="n5f2"><rect class="b5" x="656" y="4469" width="149" height="23.5"/><text class="t" x="662" y="4484.5">⑴9，12，15; ⑵15，36，39;</text></g>
<g id="n5f3"><rect class="b5" x="649" y="4516" width="156" height="23.5"/><text class="t" x="655" y="4531.5">⑶12，35，36; ⑷12，18，22.</text></g>
<g id="n5f4"><rect class="b5" x="585" y="4561" width="220" height="37"/><text class="t" x="591" y="4576.5">2 已知ΔABC中BC=41, AC=40, AB=9, 则此<tspan x="591" dy="13.5">三角形为______三角形, _____是角.</tspan></text></g>
<g id="n5f5"><rect class="b5" x="585" y="4621" width="220" height="50.5"/><text class="t" x="591" y="4636.5">3 四边形ABCD中已知AB=3，BC=4，CD=1<tspan x="591" dy="13.5">2，DA=13，且∠ABC=900，求这个四边形</tspan><tspan x="591" dy="13.5">的面积.</tspan></text></g>
<g id="n5f6"><rect class="b5" x="748" y="4694" width="57" height="23.5"/><text class="t" x="754" y="4709.5">4 习题1.3</text></g>
<g id="n5g"><rect class="b5" x="824" y="4788" width="63" height="23.5"/><text class="t" x="830" y="4803.5">课堂小结：</text></g>
<g id="n5g1"><rect class="b5" x="585" y="4743" width="220" height="50.5"/><text class="t" x="591" y="4758.5">1 直角三角形判定定理：如果三角形的三边长<tspan x="591" dy="13.5">a，b，c满足a2 +b2=c2 ，那么这个三角形</tspan><tspan x="591" dy="13.5">是直角三角形.</tspan></text></g>
<g id="n5g2"><rect class="b5" x="585" y="4815" width="220" height="37"/><text class="t" x="591" y="4830.5">2 满足a2 +b2=c2的三个正整数，称为勾股<tspan x="591" dy="13.5">数.勾股数扩大相同倍数后，仍为勾股数.</tspan></text></g>

<!-- ===== Intro ===== -->
<g id="intro"><rect class="m1" x="1395" y="696" width="222" height="175"/><text class="it" x="1403" y="717">独立设计，避免抄袭。新教案的教<tspan x="1403" dy="17.9">师指导和学生活动栏目的设计就逼</tspan><tspan x="1403" dy="17.9">使教师设法独立处理教材，主动去</tspan><tspan x="1403" dy="17.9">筹划教师和学生的课堂活动，这既</tspan><tspan x="1403" dy="17.9">能减少和避免教师的抄袭现象，也</tspan><tspan x="1403" dy="17.9">有助于发挥教师的教学创造性。今</tspan><tspan x="1403" dy="17.9">天树图网在这里整理了一些初中数</tspan><tspan x="1403" dy="17.9">学教案答案八年级上册最新模板，</tspan><tspan x="1403" dy="17.9">我们一起来看看吧!</tspan></text></g>

<!-- ===== B2 ===== -->
<g id="m2"><rect class="m2" x="1395" y="1290" width="222" height="50"/><text class="mt" x="1405" y="1311">初中数学教案答案八年级上册最新<tspan x="1405" dy="18">模板2</tspan></text></g>
<g id="n2a"><rect class="b2" x="1636" y="1004" width="73" height="23.5"/><text class="t" x="1642" y="1019.5">一、教学目标</text></g>
<g id="n2a1"><rect class="b2" x="1728" y="893" width="116" height="23.5"/><text class="t" x="1734" y="908.5">1.了解二次根式的意义;</text></g>
<g id="n2a2"><rect class="b2" x="1728" y="940" width="220" height="37"/><text class="t" x="1734" y="955.5">2. 掌握用简单的一元一次不等式解决二次根<tspan x="1734" dy="13.5">式中字母的取值问题;</tspan></text></g>
<g id="n2a3"><rect class="b2" x="1728" y="1000" width="210" height="23.5"/><text class="t" x="1734" y="1015.5">3. 掌握二次根式的性质 和 ，并能灵活应用;</text></g>
<g id="n2a4"><rect class="b2" x="1728" y="1045" width="220" height="37"/><text class="t" x="1734" y="1060.5">4.通过二次根式的计算培养学生的逻辑思维能<tspan x="1734" dy="13.5">力;</tspan></text></g>
<g id="n2a5"><rect class="b2" x="1728" y="1105" width="220" height="37"/><text class="t" x="1734" y="1120.5">5. 通过二次根式性质 和 的介绍渗透对称性、<tspan x="1734" dy="13.5">规律性的数学美.</tspan></text></g>
<g id="n2b"><rect class="b2" x="1636" y="1199" width="106" height="23.5"/><text class="t" x="1642" y="1214.5">二、教学重点和难点</text></g>
<g id="n2b1"><rect class="b2" x="1759" y="1166" width="220" height="37"/><text class="t" x="1765" y="1181.5">重点：(1)二次根的意义;(2)二次根式中字母的<tspan x="1765" dy="13.5">取值范围.</tspan></text></g>
<g id="n2b2"><rect class="b2" x="1759" y="1226" width="192" height="23.5"/><text class="t" x="1765" y="1241.5">难点：确定二次根式中字母的取值范围.</text></g>
<g id="n2c"><rect class="b2" x="1636" y="1272" width="73" height="23.5"/><text class="t" x="1642" y="1287.5">三、教学方法</text></g>
<g id="n2c1"><rect class="b2" x="1728" y="1272" width="97" height="23.5"/><text class="t" x="1734" y="1287.5">启发式、讲练结合.</text></g>
<g id="n2d"><rect class="b2" x="1636" y="1604" width="73" height="23.5"/><text class="t" x="1642" y="1619.5">四、教学过程</text></g>
<g id="n2d1"><rect class="b2" x="1728" y="1341" width="71" height="23.5"/><text class="t" x="1734" y="1356.5">(一)复习提问</text></g>
<g id="n2d1a"><rect class="b2" x="1818" y="1318" width="149" height="23.5"/><text class="t" x="1824" y="1333.5">1.什么叫平方根、算术平方根?</text></g>
<g id="n2d1b"><rect class="b2" x="1818" y="1364" width="154" height="23.5"/><text class="t" x="1824" y="1379.5">2.说出下列各式的意义，并计算</text></g>
<g id="n2d2"><rect class="b2" x="1728" y="1868" width="71" height="23.5"/><text class="t" x="1734" y="1883.5">(二)引入新课</text></g>
<g id="n2d2a"><rect class="b2" x="1818" y="1410" width="83" height="23.5"/><text class="t" x="1824" y="1425.5">新课：二次根式</text></g>
<g id="n2d2b"><rect class="b2" x="1818" y="1457" width="134" height="23.5"/><text class="t" x="1824" y="1472.5">定义：式子 叫做二次根式.</text></g>
<g id="n2d2c"><rect class="b2" x="1818" y="1609" width="220" height="37"/><text class="t" x="1824" y="1624.5">对于 请同学们讨论论应注意的问题，引导学<tspan x="1824" dy="13.5">生总结:</tspan></text></g>
<g id="n2d2c1"><rect class="b2" x="2057" y="1508" width="220" height="37"/><text class="t" x="2063" y="1523.5">(1)式子 只有在条件a≥0时才叫二次根式，是<tspan x="2063" dy="13.5">二次根式吗? 呢?</tspan></text></g>
<g id="n2d2c1a"><rect class="b2" x="2296" y="1503" width="220" height="50.5"/><text class="t" x="2302" y="1518.5">若根式中含有字母必须保证根号下式子大于等<tspan x="2302" dy="13.5">于零，因此字母范围的限制也是根式的一部分</tspan><tspan x="2302" dy="13.5">.</tspan></text></g>
<g id="n2d2c2"><rect class="b2" x="2057" y="1708" width="220" height="37"/><text class="t" x="2063" y="1723.5">(2) 是二次根式，而，提问学生：2是二次根<tspan x="2063" dy="13.5">式吗?显然不是，因此二次</tspan></text></g>
<g id="n2d2c2a"><rect class="b2" x="2296" y="1576" width="220" height="64"/><text class="t" x="2302" y="1591.5">根式指的是某种式子的“外在形态”.请学生举<tspan x="2302" dy="13.5">出几个二次根式的例子，并说明为什么是二次</tspan><tspan x="2302" dy="13.5">根式.下面例题根据二次根式定义，由学生分</tspan><tspan x="2302" dy="13.5">析、回答.</tspan></text></g>
<g id="n2d2c2b"><rect class="b2" x="2296" y="1662" width="220" height="37"/><text class="t" x="2302" y="1677.5">例1 当a为实数时，下列各式中哪些是二次根<tspan x="2302" dy="13.5">式?</tspan></text></g>
<g id="n2d2c2c"><rect class="b2" x="2296" y="1722" width="220" height="37"/><text class="t" x="2302" y="1737.5">例2 x是怎样的实数时，式子 在实数范围有意<tspan x="2302" dy="13.5">义?</tspan></text></g>
<g id="n2d2c2d"><rect class="b2" x="2296" y="1782" width="44" height="23.5"/><text class="t" x="2302" y="1797.5">解：略.</text></g>
<g id="n2d2c2e"><rect class="b2" x="2296" y="1829" width="220" height="37"/><text class="t" x="2302" y="1844.5">说明：这个问题实质上是在x是什么数时，x-<tspan x="2302" dy="13.5">3是非负数，式子 有意义.</tspan></text></g>
<g id="n2d2d"><rect class="b2" x="1818" y="2023" width="220" height="23.5"/><text class="t" x="1824" y="2038.5">例3 当字母取何值时，下列各式为二次根式:</text></g>
<g id="n2d2da"><rect class="b2" x="2057" y="1926" width="70" height="23.5"/><text class="t" x="2063" y="1941.5">(1) (2) (3) (4)</text></g>
<g id="n2d2da1"><rect class="b2" x="2148" y="1889" width="219" height="37"/><text class="t" x="2154" y="1904.5">分析：由二次根式的定义，被开方数必须是<tspan x="2154" dy="13.5">非负数，把问题转化为解不等式.</tspan></text></g>
<g id="n2d2da2"><rect class="b2" x="2148" y="1947" width="219" height="37"/><text class="t" x="2154" y="1962.5">解：(1)∵a、b为任意实数时，都有a2+b2≥0<tspan x="2154" dy="13.5">，∴当a、b为任意实数时，是二次根式.</tspan></text></g>
<g id="n2d2db"><rect class="b2" x="2057" y="2008" width="200" height="23.5"/><text class="t" x="2063" y="2023.5">(2)-3x≥0，x≤0，即x≤0时，是二次根式.</text></g>
<g id="n2d2dc"><rect class="b2" x="2057" y="2054" width="220" height="37"/><text class="t" x="2063" y="2069.5">(3)，且x≠0，∴x&gt;0，当x&gt;0时，是二次根<tspan x="2063" dy="13.5">式.</tspan></text></g>
<g id="n2d2dd"><rect class="b2" x="2057" y="2114" width="220" height="37"/><text class="t" x="2063" y="2129.5">(4)，即，故x-2≥0且x-2≠0，∴x&gt;2.当x&gt;2时<tspan x="2063" dy="13.5">，是二次根式.</tspan></text></g>
<g id="n2d2e"><rect class="b2" x="1818" y="2316" width="220" height="37"/><text class="t" x="1824" y="2331.5">例4 下列各式是二次根式，求式子中的字母所<tspan x="1824" dy="13.5">满足的条件:</tspan></text></g>
<g id="n2d2ea"><rect class="b2" x="2057" y="2174" width="220" height="77.5"/><text class="t" x="2063" y="2189.5">分析：这个例题根据二次根式定义，让学生分<tspan x="2063" dy="13.5">析式子中字母应满足的条件，进一步巩固二次</tspan><tspan x="2063" dy="13.5">根式的定义，.即：只有在条件a≥0时才叫二</tspan><tspan x="2063" dy="13.5">次根式，本题已知各式都为二次根式，故要求</tspan><tspan x="2063" dy="13.5">各式中的被开方数都大于等于零.</tspan></text></g>
<g id="n2d2eb"><rect class="b2" x="2057" y="2273" width="121" height="23.5"/><text class="t" x="2063" y="2288.5">解：(1)由2a+3≥0，得 .</text></g>
<g id="n2d2ec"><rect class="b2" x="2057" y="2319" width="131" height="23.5"/><text class="t" x="2063" y="2334.5">(2)由，得3a-1&gt;0，解得 .</text></g>
<g id="n2d2ed"><rect class="b2" x="2057" y="2366" width="220" height="50.5"/><text class="t" x="2063" y="2381.5">(3)由于x取任何实数时都有|x|≥0，因此，|x|+<tspan x="2063" dy="13.5">0.1&gt;0，于是，式子 是二次根式. 所以所求字</tspan><tspan x="2063" dy="13.5">母x的取值范围是全体实数.</tspan></text></g>
<g id="n2d2ee"><rect class="b2" x="2057" y="2440" width="220" height="37"/><text class="t" x="2063" y="2455.5">(4)由-b2≥0得b2≤0，只有当b=0时，才有b2<tspan x="2063" dy="13.5">=0，因此，字母b所满足的条件是：b=0.</tspan></text></g>

<!-- ===== B4 ===== -->
<g id="m4"><rect class="m4" x="1395" y="2983" width="222" height="50"/><text class="mt" x="1405" y="3004">初中数学教案答案八年级上册最新<tspan x="1405" dy="18">模板4</tspan></text></g>
<g id="n4a"><rect class="b4" x="1636" y="2542" width="62" height="23.5"/><text class="t" x="1642" y="2557.5">教学目标：</text></g>
<g id="n4a1"><rect class="b4" x="1719" y="2499" width="219" height="50.5"/><text class="t" x="1725" y="2514.5">1. 经历运用拼图的方法说明勾股定理是正确<tspan x="1725" dy="13.5">的过程，在数学活动中发展学生的探究意识和</tspan><tspan x="1725" dy="13.5">合作交流的习惯。</tspan></text></g>
<g id="n4a2"><rect class="b4" x="1719" y="2572" width="158" height="23.5"/><text class="t" x="1725" y="2587.5">2. 掌握勾股定理和他的简单应用</text></g>
<g id="n4b"><rect class="b4" x="1636" y="2920" width="62" height="23.5"/><text class="t" x="1642" y="2935.5">重点难点：</text></g>
<g id="n4b1"><rect class="b4" x="1719" y="2618" width="211" height="23.5"/><text class="t" x="1725" y="2633.5">重点：能熟练运用拼图的方法证明勾股定理</text></g>
<g id="n4b2"><rect class="b4" x="1719" y="2665" width="125" height="23.5"/><text class="t" x="1725" y="2680.5">难点：用面积证勾股定理</text></g>
<g id="n4b3"><rect class="b4" x="1719" y="2711" width="53" height="23.5"/><text class="t" x="1725" y="2726.5">教学过程</text></g>
<g id="n4b4"><rect class="b4" x="1719" y="2941" width="219" height="37"/><text class="t" x="1725" y="2956.5">七、创设问题的情境，激发学生的学习热情<tspan x="1725" dy="13.5">，导入课题</tspan></text></g>
<g id="n4b4a"><rect class="b4" x="1957" y="2757" width="219" height="131.5"/><text class="t" x="1963" y="2772.5">我们已经通过数格子的方法发现了直角三角形<tspan x="1963" dy="13.5">三边的关系，究竟是几个实例，是否具有普遍</tspan><tspan x="1963" dy="13.5">的意义，还需加以论证，下面就是今天所要研</tspan><tspan x="1963" dy="13.5">究的内容，下边请大家画四个全等的直角三角</tspan><tspan x="1963" dy="13.5">形，并把它剪下来，用这四个直角三角形，拼</tspan><tspan x="1963" dy="13.5">一拼、摆一摆，看看能否得到一个含有以斜边</tspan><tspan x="1963" dy="13.5">c为边长的正方形，并与同学交流。在同学操</tspan><tspan x="1963" dy="13.5">作的过程中，教师展示投影1(书中p7 图1—7</tspan><tspan x="1963" dy="13.5">)接着提问：大正方形的面积可表示为什么?</tspan></text></g>
<g id="n4b4b"><rect class="b4" x="1957" y="2912" width="174" height="23.5"/><text class="t" x="1963" y="2927.5">(同学们回答有这几种可能：(1) (2) )</text></g>
<g id="n4b4c"><rect class="b4" x="1957" y="2958" width="219" height="37"/><text class="t" x="1963" y="2973.5">在同学交流形成共识之后，教师把这两种表示<tspan x="1963" dy="13.5">大正方形面积的式子用等号连接起来。</tspan></text></g>
<g id="n4b4d"><rect class="b4" x="1957" y="3017" width="219" height="37"/><text class="t" x="1963" y="3032.5">= 请同学们对上面的式子进行化简，得到:<tspan x="1963" dy="13.5">即 =</tspan></text></g>
<g id="n4b4e"><rect class="b4" x="1957" y="3077" width="219" height="37"/><text class="t" x="1963" y="3092.5">这就可以从理论上说明勾股定理存在。请同学<tspan x="1963" dy="13.5">们去用别的拼图方法说明勾股定理。</tspan></text></g>
<g id="n4b5"><rect class="b4" x="1719" y="3220" width="53" height="23.5"/><text class="t" x="1725" y="3235.5">八、讲例</text></g>
<g id="n4b5a"><rect class="b4" x="1793" y="3199" width="218" height="64"/><text class="t" x="1799" y="3214.5">1. 飞机在空中水平飞行，某一时刻刚好飞机<tspan x="1799" dy="13.5">飞到一个男孩头顶正上方4000多米处，过20</tspan><tspan x="1799" dy="13.5">秒，飞机距离这个男孩头顶5000米，飞机每</tspan><tspan x="1799" dy="13.5">时飞行多少千米?</tspan></text></g>
<g id="n4b5a1"><rect class="b4" x="2032" y="3136" width="218" height="104.5"/><text class="t" x="2038" y="3151.5">分析：根据题意：可以先画出符合题意的图形<tspan x="2038" dy="13.5">，如右图，图中△ABC的 米，AB=5000米，</tspan><tspan x="2038" dy="13.5">欲求飞机每小时飞行多少千米，就要知道飞机</tspan><tspan x="2038" dy="13.5">在20秒的时间里的飞行路程，即图中的CB的</tspan><tspan x="2038" dy="13.5">长，由于直角△ABC的斜边AB=5000米，AC</tspan><tspan x="2038" dy="13.5">=4000米，这样的CB就可以通过勾股定理得</tspan><tspan x="2038" dy="13.5">出。这里一定要注意单位的换算。</tspan></text></g>
<g id="n4b5a2"><rect class="b4" x="2032" y="3263" width="93" height="23.5"/><text class="t" x="2038" y="3278.5">解：由勾股定理得</text></g>
<g id="n4c"><rect class="b4" x="1636" y="3442" width="220" height="37"/><text class="t" x="1642" y="3457.5">即BC=3千米 飞机20秒飞行3千米，那么它1<tspan x="1642" dy="13.5">小时飞行的距离为:</tspan></text></g>
<g id="n4ca"><rect class="b4" x="1875" y="3309" width="165" height="23.5"/><text class="t" x="1881" y="3324.5">答：飞机每个小时飞行540千米。</text></g>
<g id="n4cb"><rect class="b4" x="1875" y="3435" width="66" height="23.5"/><text class="t" x="1881" y="3450.5">九、议一议</text></g>
<g id="n4cb1"><rect class="b4" x="1960" y="3356" width="131" height="23.5"/><text class="t" x="1966" y="3371.5">展示投影2(书中的图1—9)</text></g>
<g id="n4cb2"><rect class="b4" x="1960" y="3402" width="220" height="37"/><text class="t" x="1966" y="3417.5">观察上图，应用数格子的方法判断图中的三角<tspan x="1966" dy="13.5">形的三边长是否满足</tspan></text></g>
<g id="n4cb3"><rect class="b4" x="1960" y="3462" width="209" height="23.5"/><text class="t" x="1966" y="3477.5">同学在议论交流形成共识之后，老师总结。</text></g>
<g id="n4cb4"><rect class="b4" x="1960" y="3508" width="220" height="37"/><text class="t" x="1966" y="3523.5">勾股定理存在于直角三角形中，不是直角三角<tspan x="1966" dy="13.5">形就不能使用勾股定理。</tspan></text></g>
<g id="n4cc"><rect class="b4" x="1875" y="3591" width="55" height="23.5"/><text class="t" x="1881" y="3606.5">十、作业</text></g>
<g id="n4cc1"><rect class="b4" x="1949" y="3567" width="138" height="23.5"/><text class="t" x="1955" y="3582.5">1、1、课文 P11§1.2 1 、2</text></g>
<g id="n4cc2"><rect class="b4" x="1949" y="3614" width="84" height="23.5"/><text class="t" x="1955" y="3629.5">2、选用作业。</text></g>

<!-- ===== B6 ===== -->
<g id="m6"><rect class="m6" x="1395" y="3855" width="222" height="50"/><text class="mt" x="1405" y="3876">初中数学教案答案八年级上册最新<tspan x="1405" dy="18">相关文章：</tspan></text></g>
<g id="r1"><rect class="b6" x="1636" y="3660" width="180" height="23.5"/><text class="t" x="1642" y="3675.5">★ 最新初中八年级数学上册教案例文</text></g>
<g id="r2"><rect class="b6" x="1636" y="3706" width="174" height="23.5"/><text class="t" x="1642" y="3721.5">★ 初中8年级上册数学教案最新模板</text></g>
<g id="r3"><rect class="b6" x="1636" y="3752" width="157" height="23.5"/><text class="t" x="1642" y="3767.5">★ 最新初中八年级数学教案文案</text></g>
<g id="r4"><rect class="b6" x="1636" y="3799" width="161" height="23.5"/><text class="t" x="1642" y="3814.5">★ 2021最新八年级数学复习教案</text></g>
<g id="r5"><rect class="b6" x="1636" y="3845" width="157" height="23.5"/><text class="t" x="1642" y="3860.5">★ 初中数学人教版教案范文五篇</text></g>
<g id="r6"><rect class="b6" x="1636" y="3892" width="157" height="23.5"/><text class="t" x="1642" y="3907.5">★ 人教版初中数学教师教案五篇</text></g>
<g id="r7"><rect class="b6" x="1636" y="3938" width="148" height="23.5"/><text class="t" x="1642" y="3953.5">★ 初中数学教案教学设计范文</text></g>
<g id="r8"><rect class="b6" x="1636" y="3985" width="85" height="23.5"/><text class="t" x="1642" y="4000.5">★ 小学数学教案</text></g>
<g id="r9"><rect class="b6" x="1636" y="4030" width="168" height="23.5"/><text class="t" x="1642" y="4045.5">★ 初中数学教学设计教案模板范文</text></g>
<g id="r10"><rect class="b6" x="1636" y="4077" width="157" height="23.5"/><text class="t" x="1642" y="4092.5">★ 初中八年级数学下册教学设计</text></g>

</g>
</svg>
